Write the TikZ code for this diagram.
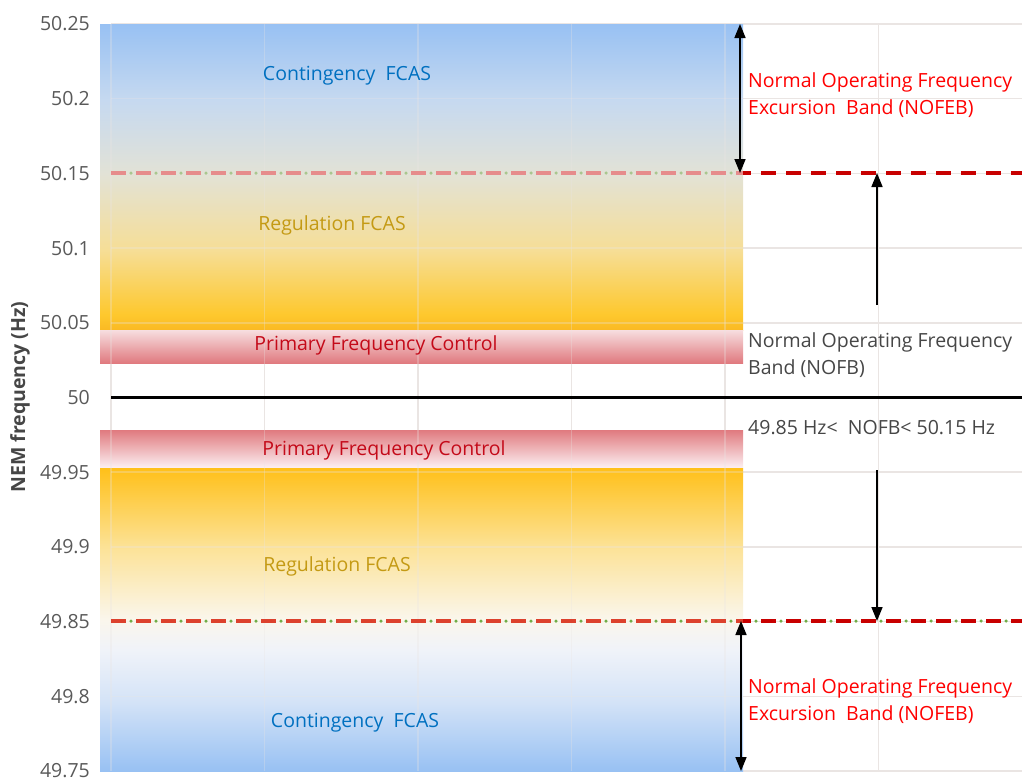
\documentclass[tikz,border=0pt]{standalone}
\usepackage{fontspec}
\setmainfont{Open Sans}
\usepackage{xcolor}
\usepackage{tikz}
\usetikzlibrary{arrows.meta}

\definecolor{skyblue}{RGB}{152,193,243}
\definecolor{paleblue}{RGB}{198,217,240}
\definecolor{mistblue}{RGB}{212,227,247}
\definecolor{whiteblue}{RGB}{240,243,249}
\definecolor{cream}{RGB}{250,246,236}
\definecolor{beige}{RGB}{226,226,214}
\definecolor{sand}{RGB}{246,222,150}
\definecolor{lightgold}{RGB}{252,226,150}
\definecolor{gold}{RGB}{254,200,45}
\definecolor{deepgold}{RGB}{250,185,35}
\definecolor{brightgold}{RGB}{255,192,25}
\definecolor{pinklight}{RGB}{247,222,224}
\definecolor{pinkpale}{RGB}{252,240,242}
\definecolor{pinkdark}{RGB}{224,122,127}
\definecolor{gridgray}{RGB}{234,229,227}
\definecolor{tickgray}{RGB}{89,89,89}
\definecolor{textgray}{RGB}{70,70,70}
\definecolor{fcasblue}{RGB}{0,112,192}
\definecolor{reggold}{RGB}{196,154,20}
\definecolor{pfcred}{RGB}{196,10,25}
\definecolor{nofebred}{RGB}{255,0,0}
\definecolor{dashred}{RGB}{200,0,0}
\definecolor{dashgreen}{RGB}{112,173,71}

\pgfdeclareverticalshading{uppershade}{100bp}{color(0bp)=(deepgold); color(25bp)=(deepgold);
  color(27.5bp)=(gold); color(38bp)=(sand); color(50.5bp)=(beige); color(62.5bp)=(paleblue);
  color(75bp)=(skyblue); color(100bp)=(skyblue)}
\pgfdeclareverticalshading{lowershade}{100bp}{color(0bp)=(skyblue); color(25bp)=(skyblue);
  color(36.5bp)=(mistblue); color(45bp)=(whiteblue); color(50bp)=(cream); color(62bp)=(lightgold);
  color(75bp)=(brightgold); color(100bp)=(brightgold)}
\pgfdeclareverticalshading{pfcupper}{100bp}{color(0bp)=(pinkdark); color(25bp)=(pinkdark);
  color(75bp)=(pinklight); color(100bp)=(pinklight)}
\pgfdeclareverticalshading{pfclower}{100bp}{color(0bp)=(pinkpale); color(25bp)=(pinkpale);
  color(75bp)=(pinkdark); color(100bp)=(pinkdark)}

\begin{document}
\begin{tikzpicture}
    [x=1pt,y=-1pt,
    %%%%%%%%%%%%%%%%%%%%%%%%%%%%%%
        tick/.style={anchor=east,inner sep=0pt,text=tickgray,font=\fontsize{19.5}{24}\selectfont},
        band/.style={inner sep=0pt,font=\fontsize{19.5}{24}\selectfont},
        note/.style={anchor=west,align=left,inner sep=0pt,font=\fontsize{19.5}{27}\selectfont},
        grid/.style={draw=gridgray,line width=1.5pt},
        greendots/.style={draw=dashgreen,line width=3.5pt,line cap=round,dash pattern=on 0pt off 25pt,dash phase=5pt},
        reddash/.style={line width=3.5pt,dash pattern=on 15pt off 10pt},
        span/.style={draw=black,line width=1.6pt,{Triangle[length=14pt,width=11pt]}-{Triangle[length=14pt,width=11pt]}},
        pointer/.style={draw=black,line width=1.6pt,-{Triangle[length=14pt,width=11pt]}}
    ]%%%%%%%%%%%%%%%%%%%%%%%%%%%%%%
\useasboundingbox (0,0) rectangle (1022,780);

% grid
\foreach \i in {0,1,...,10}{
    \draw[grid] (111,24+74.7*\i) -- (1022,24+74.7*\i);
}
\foreach \j in {0,1,...,5}{
    \draw[grid] (111+153.5*\j,24) -- (111+153.5*\j,771);
}

% shaded bands
\fill[shading=uppershade] (100,24) rectangle (743,330);
\fill[shading=pfcupper] (100,330) rectangle (743,363);
\fill[shading=pfclower] (100,430) rectangle (743,468);
\fill[shading=lowershade] (100,468) rectangle (743,771);

% grid seen through the bands
\foreach \i in {1,...,9}{
    \draw[grid,opacity=0.3] (111,24+74.7*\i) -- (743,24+74.7*\i);
}
\foreach \j in {0,1,...,4}{
    \draw[grid,opacity=0.3] (111+153.5*\j,24) -- (111+153.5*\j,771);
}

% tick labels
\foreach \lab [count=\i from 0] in {50.25,50.2,50.15,50.1,50.05,50,49.95,49.9,49.85,49.8,49.75}{
    \node[tick] (t\i) at (90,24+74.7*\i) {\lab};
}
\node[rotate=90,inner sep=0pt,text=textgray,font=\fontsize{19.5}{24}\selectfont\bfseries] (ylabel) at (20,397) {NEM frequency (Hz)};

% nominal frequency
\draw[black,line width=3pt] (111,397) -- (1022,397);

% NOFB limits
\coordinate (hiL) at (111,173);
\coordinate (hiM) at (743,173);
\coordinate (hiR) at (1022,173);
\coordinate (loL) at (111,621);
\coordinate (loM) at (743,621);
\coordinate (loR) at (1022,621);
\draw[greendots,opacity=0.5] (hiL) -- (hiM);
\draw[reddash,draw=dashred!45] (hiL) -- (hiM);
\draw[greendots] (hiM) -- (hiR);
\draw[reddash,draw=dashred,dash phase=7pt] (hiM) -- (hiR);
\draw[greendots] (loL) -- (loR);
\draw[reddash,draw={rgb,255:red,220;green,65;blue,45}] (loL) -- (loM);
\draw[reddash,draw=dashred,dash phase=7pt] (loM) -- (loR);

% band labels
\node[band,text=fcasblue] (contup) at (347,76) {Contingency\ \ FCAS};
\node[band,text=reggold] (regup) at (332,225) {Regulation FCAS};
\node[band,text=pfcred] (pfcup) at (376,345) {Primary Frequency Control};
\node[band,text=pfcred] (pfclo) at (384,450) {Primary Frequency Control};
\node[band,text=reggold] (reglo) at (337,566) {Regulation FCAS};
\node[band,text=fcasblue] (contlo) at (355,723) {Contingency\ \ FCAS};

% notes on the right
\node[note,text=nofebred] (nofebup) at (748,95.5) {Normal Operating Frequency\\Excursion\ \ Band (NOFEB)};
\node[note,text=textgray] (nofb) at (748,355.5) {Normal Operating Frequency\\Band (NOFB)};
\node[note,text=textgray] (nofbrange) at (748,428) {49.85 Hz<\ \ NOFB< 50.15 Hz};
\node[note,text=nofebred] (nofeblo) at (748,701.5) {Normal Operating Frequency\\Excursion\ \ Band (NOFEB)};

% arrows
\coordinate (spanAtop) at (740,24);
\coordinate (spanAbot) at (740,173);
\coordinate (spanBtop) at (741,621);
\coordinate (spanBbot) at (741,771);
\coordinate (upfrom) at (877,305);
\coordinate (upto) at (877,173);
\coordinate (downfrom) at (877,470);
\coordinate (downto) at (877,621);
\draw[span] (spanAtop) -- (spanAbot);
\draw[span] (spanBtop) -- (spanBbot);
\draw[pointer] (upfrom) -- (upto);
\draw[pointer] (downfrom) -- (downto);

\end{tikzpicture}
\end{document}
